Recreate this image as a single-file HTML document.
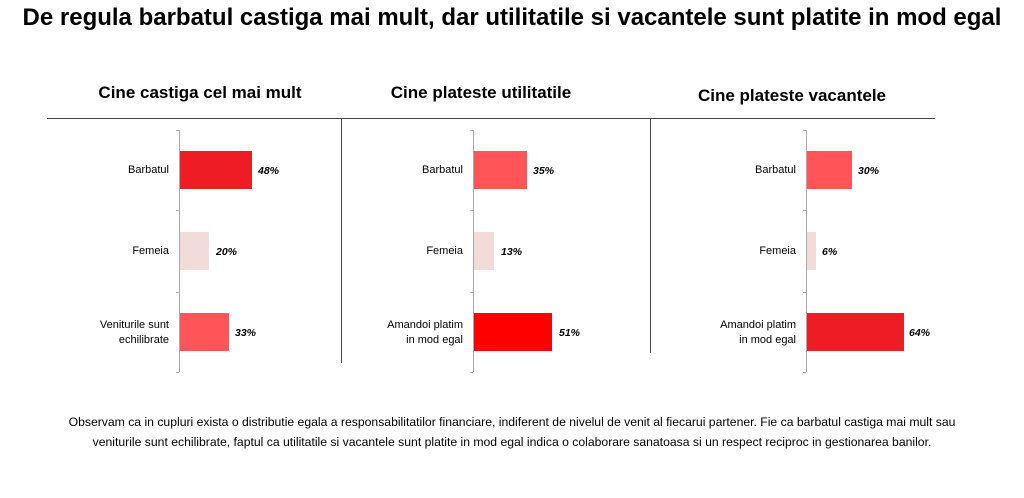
<!DOCTYPE html>
<html><head><meta charset="utf-8"><style>
body{margin:0;width:1024px;height:498px;background:#fff;font-family:"Liberation Sans",sans-serif;position:relative;overflow:hidden;color:#000}
.a{position:absolute}
.t{left:0;width:1024px;text-align:center;top:4px;font-size:24px;font-weight:bold;white-space:nowrap}
.st{font-size:17px;font-weight:bold;top:83px;white-space:nowrap;transform:translateX(-50%)}
.lab{font-size:11px;text-align:right;width:120px;line-height:15px}
.v{font-size:10.5px;font-weight:bold;font-style:italic}
.note{left:0;width:1024px;text-align:center;top:412px;font-size:12.2px;line-height:20px;white-space:nowrap}
</style></head><body>
<div class="a t">De regula barbatul castiga mai mult, dar utilitatile si vacantele sunt platite in mod egal</div>
<div class="a st" style="left:200px">Cine castiga cel mai mult</div>
<div class="a st" style="left:481px">Cine plateste utilitatile</div>
<div class="a st" style="left:792px;top:86px">Cine plateste vacantele</div>
<div class="a" style="left:47px;top:118px;width:888px;height:1px;background:#444"></div>
<div class="a" style="left:341px;top:118px;width:1px;height:245px;background:#444"></div>
<div class="a" style="left:650px;top:118px;width:1px;height:235px;background:#444"></div>
<svg class="a" style="left:0;top:0" width="1024" height="498">
<g stroke="#aaa" stroke-width="1">
<line x1="179.5" y1="130" x2="179.5" y2="372"/><line x1="176" y1="130.5" x2="179" y2="130.5"/><line x1="176" y1="210.5" x2="179" y2="210.5"/><line x1="176" y1="292.5" x2="179" y2="292.5"/><line x1="176" y1="372.5" x2="179" y2="372.5"/>
<line x1="473.5" y1="130" x2="473.5" y2="372"/><line x1="470" y1="130.5" x2="473" y2="130.5"/><line x1="470" y1="210.5" x2="473" y2="210.5"/><line x1="470" y1="292.5" x2="473" y2="292.5"/><line x1="470" y1="372.5" x2="473" y2="372.5"/>
<line x1="806.5" y1="130" x2="806.5" y2="372"/><line x1="803" y1="130.5" x2="806" y2="130.5"/><line x1="803" y1="210.5" x2="806" y2="210.5"/><line x1="803" y1="292.5" x2="806" y2="292.5"/><line x1="803" y1="372.5" x2="806" y2="372.5"/>
</g>
<rect x="180" y="151" width="72" height="38" fill="#ee1c25"/>
<rect x="180" y="232" width="29" height="38" fill="#f2dcda"/>
<rect x="180" y="313" width="49" height="38" fill="#ff5458"/>
<rect x="474" y="151" width="53" height="38" fill="#ff5458"/>
<rect x="474" y="232" width="20" height="38" fill="#f2dcda"/>
<rect x="474" y="313" width="78" height="38" fill="#ff0000"/>
<rect x="807" y="151" width="45" height="38" fill="#ff5458"/>
<rect x="807" y="232" width="9" height="38" fill="#f2dcda"/>
<rect x="807" y="313" width="97" height="38" fill="#ee1c25"/>
</svg>
<div class="a lab" style="left:49px;top:163px">Barbatul</div>
<div class="a lab" style="left:49px;top:244px">Femeia</div>
<div class="a lab" style="left:49px;top:318px">Veniturile sunt<br>echilibrate</div>
<div class="a v" style="left:258px;top:165px">48%</div>
<div class="a v" style="left:216px;top:246px">20%</div>
<div class="a v" style="left:235px;top:327px">33%</div>
<div class="a lab" style="left:343px;top:163px">Barbatul</div>
<div class="a lab" style="left:343px;top:244px">Femeia</div>
<div class="a lab" style="left:343px;top:318px">Amandoi platim<br>in mod egal</div>
<div class="a v" style="left:533px;top:165px">35%</div>
<div class="a v" style="left:501px;top:246px">13%</div>
<div class="a v" style="left:559px;top:327px">51%</div>
<div class="a lab" style="left:676px;top:163px">Barbatul</div>
<div class="a lab" style="left:676px;top:244px">Femeia</div>
<div class="a lab" style="left:676px;top:318px">Amandoi platim<br>in mod egal</div>
<div class="a v" style="left:858px;top:165px">30%</div>
<div class="a v" style="left:822px;top:246px">6%</div>
<div class="a v" style="left:909px;top:327px">64%</div>
<div class="a note">Observam ca in cupluri exista o distributie egala a responsabilitatilor financiare, indiferent de nivelul de venit al fiecarui partener. Fie ca barbatul castiga mai mult sau<br>veniturile sunt echilibrate, faptul ca utilitatile si vacantele sunt platite in mod egal indica o colaborare sanatoasa si un respect reciproc in gestionarea banilor.</div>
</body></html>
